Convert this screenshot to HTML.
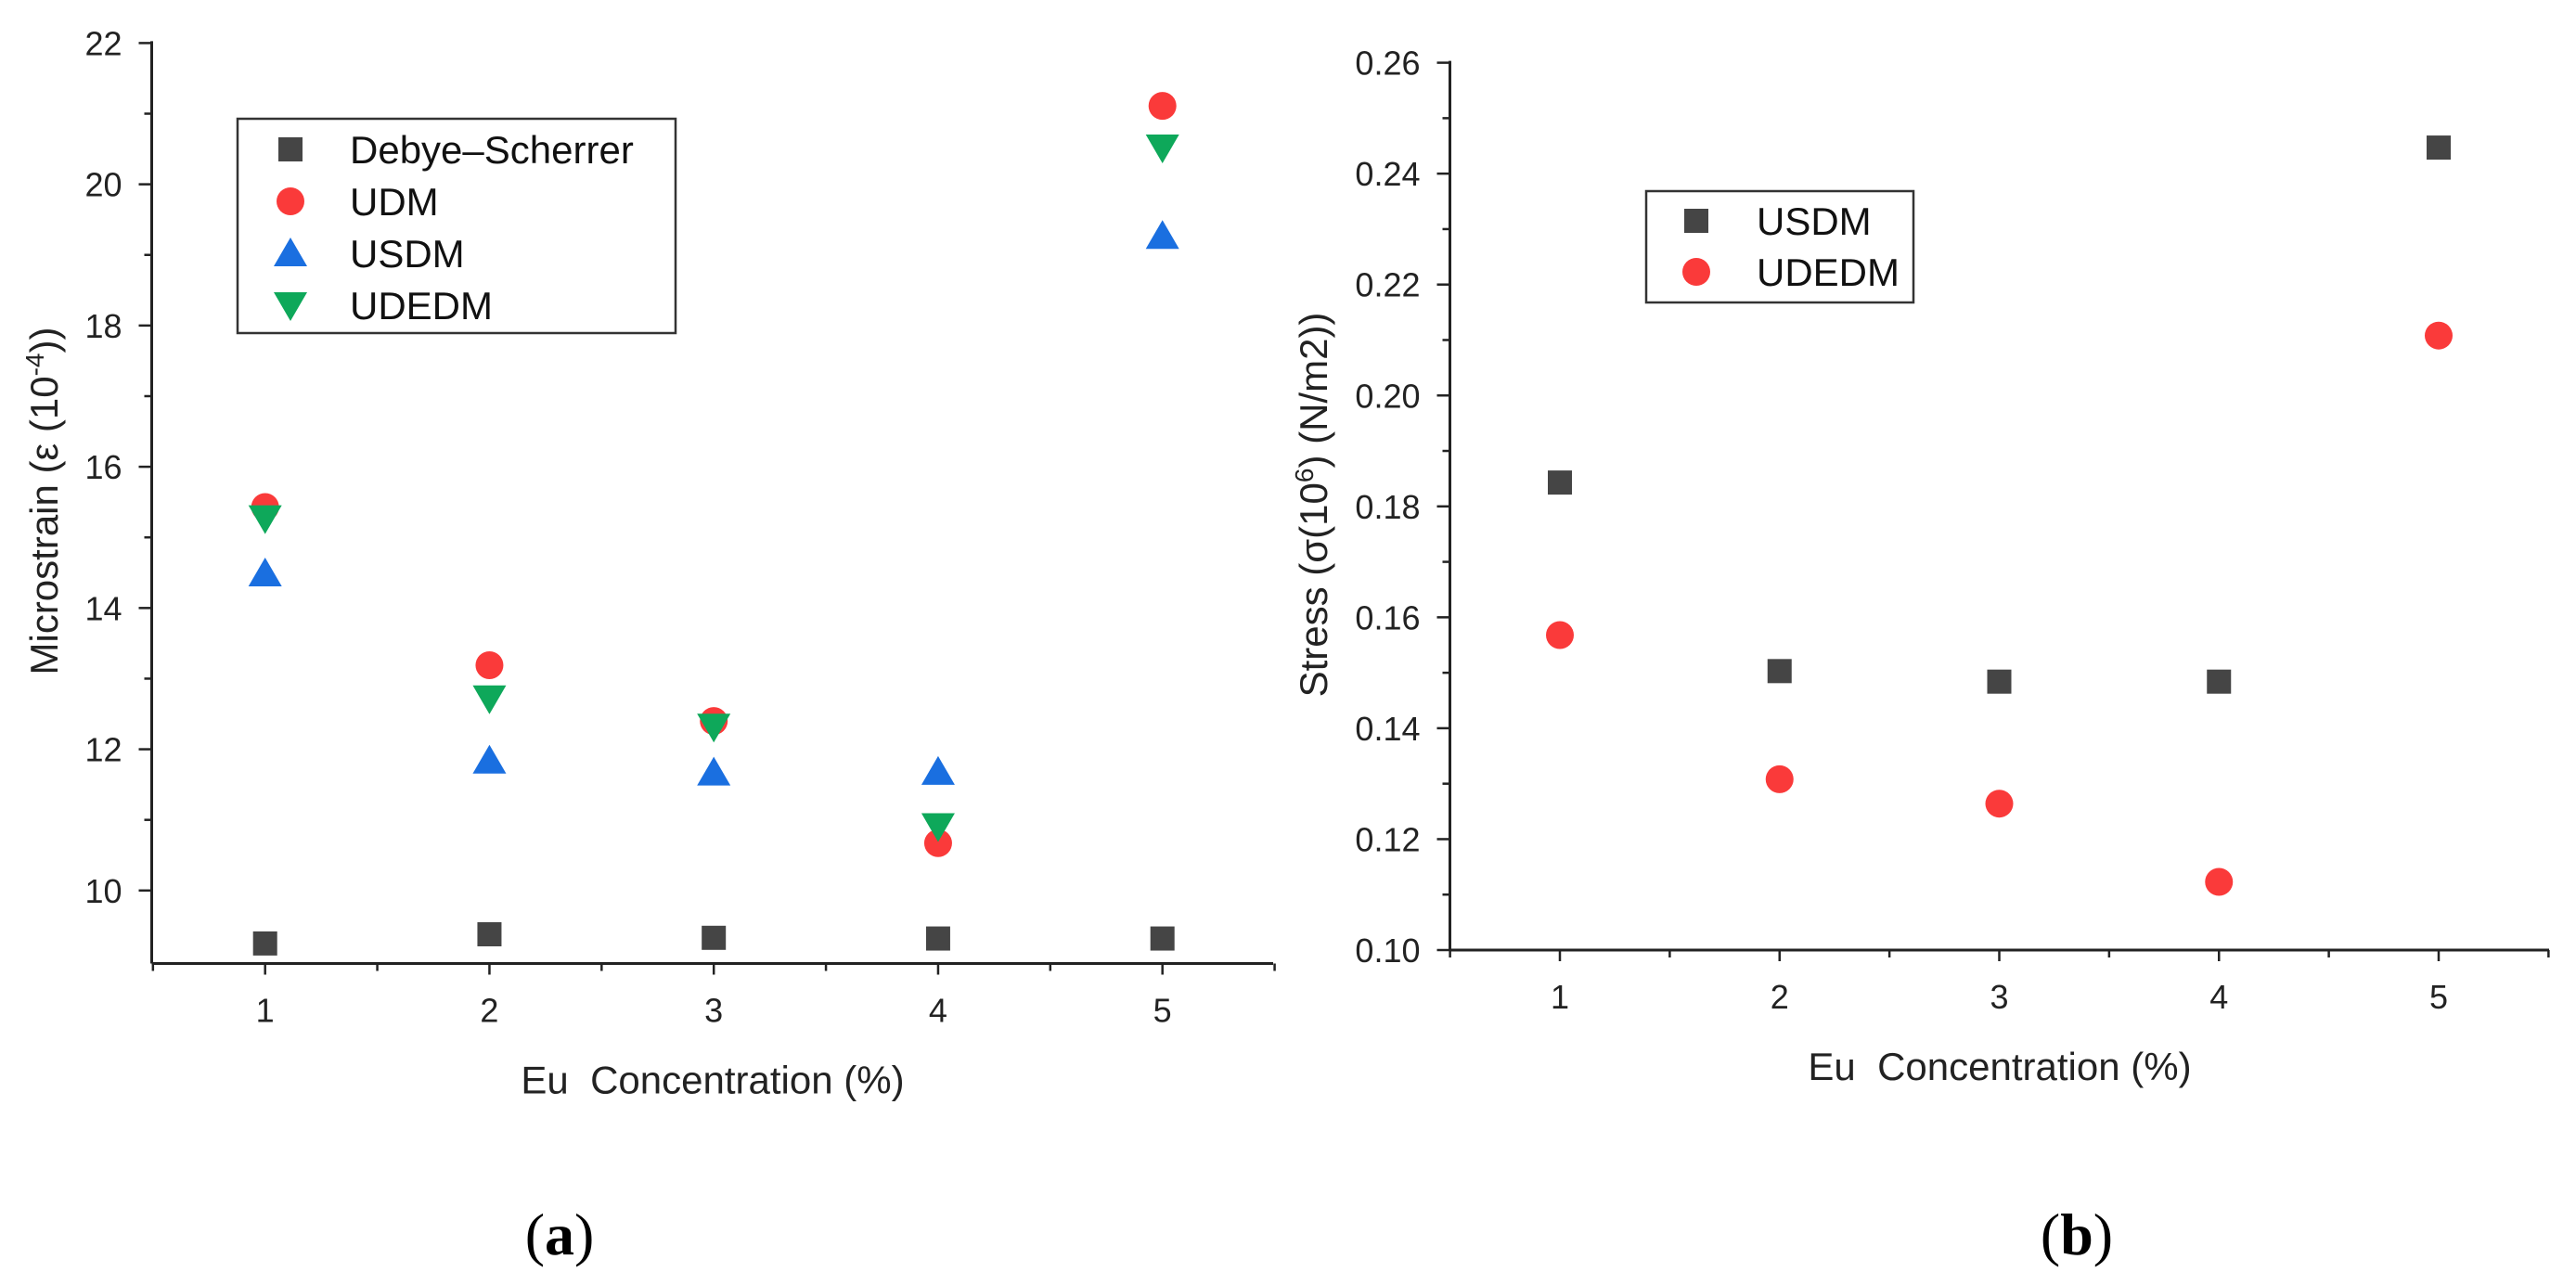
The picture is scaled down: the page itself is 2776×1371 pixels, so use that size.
<!DOCTYPE html>
<html><head><meta charset="utf-8"><style>
html,body{margin:0;padding:0;background:#fff;}
svg{display:block;font-family:"Liberation Sans",sans-serif;}
</style></head><body>
<svg id="fig" width="2776" height="1371" viewBox="0 0 2776 1371" xmlns="http://www.w3.org/2000/svg"></svg>
<script>
const xCats = [1, 2, 3, 4, 5];
const aYTicks = [10, 12, 14, 16, 18, 20, 22];
const aDebye = [9.25, 9.38, 9.33, 9.32, 9.32];
const aUDM = [15.43, 13.19, 12.40, 10.67, 21.11];
const aUSDM = [14.49, 11.84, 11.67, 11.68, 19.27];
const aUDEDM = [15.27, 12.72, 12.32, 10.91, 20.52];
const bYTicks = [0.10, 0.12, 0.14, 0.16, 0.18, 0.20, 0.22, 0.24, 0.26];
const bUSDM = [0.1843, 0.1503, 0.1484, 0.1484, 0.2447];
const bUDEDM = [0.1568, 0.1308, 0.1264, 0.1123, 0.2108];

const NS = "http://www.w3.org/2000/svg";
const svg = document.getElementById('fig');
function el(tag, attrs, parent, text) {
  const e = document.createElementNS(NS, tag);
  for (const k in attrs) e.setAttribute(k, attrs[k]);
  if (text !== undefined) e.textContent = text;
  (parent || svg).appendChild(e);
  return e;
}
const GRAY = '#454545', RED = '#fa3a3a', BLUE = '#1a6fe0', GREEN = '#0ea85a', INK = '#222';

function marker(g, type, cx, cy, color) {
  let m;
  if (type === 'square') m = el('rect', {x: cx - 13, y: cy - 13, width: 26, height: 26, fill: color}, g);
  else if (type === 'circle') m = el('circle', {cx: cx, cy: cy, r: 15, fill: color}, g);
  else if (type === 'up') m = el('polygon', {points: `${cx-18},${cy+14} ${cx+18},${cy+14} ${cx},${cy-17}`, fill: color}, g);
  else m = el('polygon', {points: `${cx-18},${cy-14} ${cx+18},${cy-14} ${cx},${cy+17}`, fill: color}, g);
  return m;
}

function panel(cfg) {
  const g = el('g', {});
  
  
  const xs = v => cfg.x1px + (v - 1) * (cfg.x5px - cfg.x1px) / 4;
  const ys = v => cfg.yBotPx + (v - cfg.yMin) * (cfg.yTopPx - cfg.yBotPx) / (cfg.yMax - cfg.yMin);
  const ax = el('line', {x1: cfg.axL, y1: cfg.axB, x2: cfg.axR, y2: cfg.axB, stroke: INK, 'stroke-width': 3}, g);
  
  
  const ay = el('line', {x1: cfg.axL, y1: cfg.axB, x2: cfg.axL, y2: ys(cfg.yMax) - 2, stroke: INK, 'stroke-width': 3}, g);
  
  
  for (let v = 0.5; v <= 5.51; v += 0.5) {
    const px = xs(v);
    const major = Math.abs(v - Math.round(v)) < 0.01;
    el('line', {x1: px, y1: cfg.axB, x2: px, y2: cfg.axB + (major ? 12 : 8), stroke: INK, 'stroke-width': 2.5}, g);
  }
  xCats.forEach(c => {
    const t = el('text', {x: xs(c), y: cfg.axB + 63, 'font-size': 36, fill: INK, 'text-anchor': 'middle'}, g, String(c));
    
    
  });
  const step = cfg.yTicks[1] - cfg.yTicks[0];
  cfg.yTicks.forEach((v, i) => {
    const py = ys(v);
    el('line', {x1: cfg.axL - 14, y1: py, x2: cfg.axL, y2: py, stroke: INK, 'stroke-width': 2.5}, g);
    if (i < cfg.yTicks.length - 1) {
      const pm = ys(v + step / 2);
      el('line', {x1: cfg.axL - 8, y1: pm, x2: cfg.axL, y2: pm, stroke: INK, 'stroke-width': 2.5}, g);
    }
    const t = el('text', {x: cfg.axL - 32, y: py + 13, 'font-size': 36, fill: INK, 'text-anchor': 'end'}, g, cfg.fmt(v));
    
    
  });
  cfg.series.forEach(s => {
    const sg = el('g', {}, g);
    
    
    s.values.forEach((v, i) => {
      const m = marker(sg, s.type, xs(xCats[i]), ys(v), s.color);
      
      
    });
  });
  const lg = el('g', {}, g);
  
  
  el('rect', {x: cfg.leg.x, y: cfg.leg.y, width: cfg.leg.w, height: cfg.leg.h, fill: '#fff', stroke: '#333', 'stroke-width': 2.5}, lg);
  cfg.series.forEach((s, i) => {
    const ey = cfg.leg.y0 + i * cfg.leg.dy;
    const eg = el('g', {}, lg);
    
    
    marker(eg, s.type, cfg.leg.mx, ey, s.color);
    el('text', {x: cfg.leg.tx, y: ey + 15, 'font-size': 42, fill: '#111'}, eg, s.label);
  });
  const xt = el('text', {x: cfg.xTitleX, y: cfg.axB + 140, 'font-size': 42, fill: INK, 'text-anchor': 'middle', style: 'white-space:pre'}, g, 'Eu  Concentration (%)');
  
  
  const yt = el('text', {x: 0, y: 0, 'font-size': 42, fill: INK, 'text-anchor': 'middle', transform: `translate(${cfg.yTitleX},${cfg.yTitleY}) rotate(-90)`}, g);
  
  
  yt.innerHTML = cfg.yTitle;
  const cap = el('text', {x: cfg.capX, y: 1352, 'font-size': 64, fill: '#000', 'text-anchor': 'middle', 'font-family': '"Liberation Serif",serif'}, g);
  
  
  cap.innerHTML = '(<tspan font-weight="bold">' + cfg.cap + '</tspan>)';
}

panel({
  name: 'panel-a-microstrain', x1px: 285.7, x5px: 1252.7, axL: 163.5, axR: 1372, axB: 1038.5,
  yMin: 10, yMax: 22, yBotPx: 959.8, yTopPx: 46.4, yTicks: aYTicks, fmt: v => String(v),
  series: [
    {id: 'debye-scherrer-series', label: 'Debye\u2013Scherrer', type: 'square', color: GRAY, values: aDebye},
    {id: 'udm-series', label: 'UDM', type: 'circle', color: RED, values: aUDM},
    {id: 'usdm-series', label: 'USDM', type: 'up', color: BLUE, values: aUSDM},
    {id: 'udedm-series', label: 'UDEDM', type: 'down', color: GREEN, values: aUDEDM}
  ],
  leg: {x: 256, y: 128, w: 472, h: 231, y0: 161, dy: 56, mx: 313, tx: 377},
  xTitleX: 768, yTitleX: 62, yTitleY: 540,
  yTitle: 'Microstrain (ε (10<tspan baseline-shift="super" font-size="28">-4</tspan>))',
  capX: 603, cap: 'a'
});
panel({
  name: 'panel-b-stress', x1px: 1681, x5px: 2628, axL: 1562.5, axR: 2747, axB: 1024,
  yMin: 0.10, yMax: 0.26, yBotPx: 1024, yTopPx: 67.6, yTicks: bYTicks, fmt: v => v.toFixed(2),
  series: [
    {id: 'usdm-stress-series', label: 'USDM', type: 'square', color: GRAY, values: bUSDM},
    {id: 'udedm-stress-series', label: 'UDEDM', type: 'circle', color: RED, values: bUDEDM}
  ],
  leg: {x: 1774, y: 206, w: 288, h: 120, y0: 238, dy: 55, mx: 1828, tx: 1893},
  xTitleX: 2155, yTitleX: 1430, yTitleY: 544,
  yTitle: 'Stress (σ(10<tspan baseline-shift="super" font-size="28">6</tspan>) (N/m2))',
  capX: 2238, cap: 'b'
});
</script>
</body></html>
